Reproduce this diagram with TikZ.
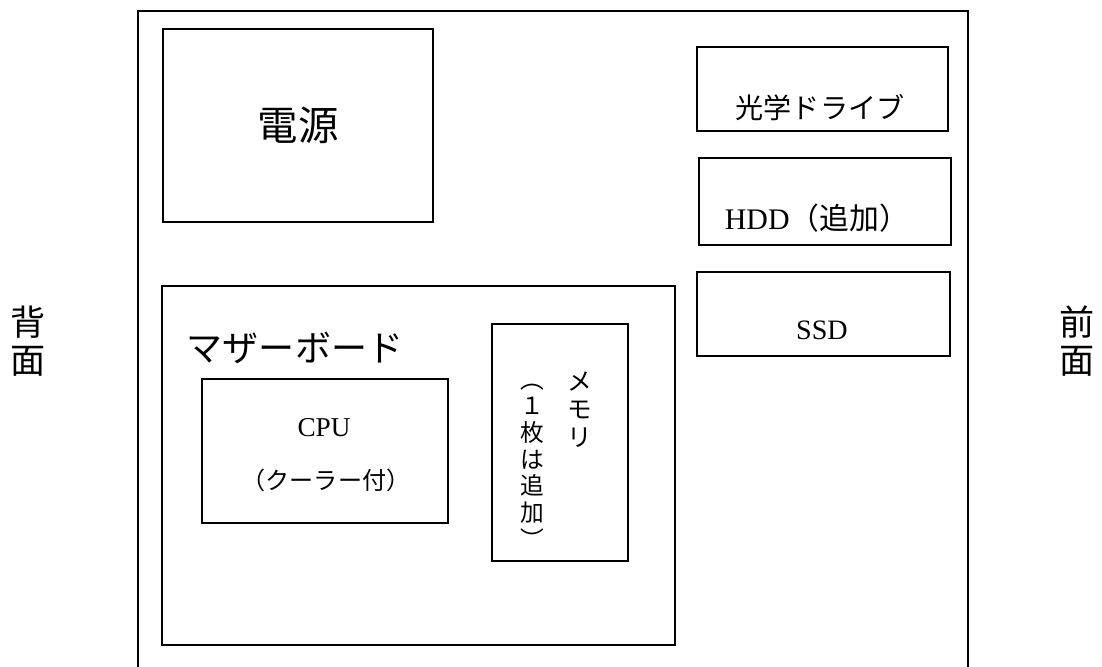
\documentclass[tikz,border=0pt]{standalone}
\usepackage{fontspec}
\setmainfont{Liberation Serif}
\newfontfamily\jfont{Noto Sans CJK JP}
\usetikzlibrary{positioning}

\begin{document}
\begin{tikzpicture}[x=0.02cm, y=-0.02cm, line width=1.3pt,
  part/.style 2 args={draw, rectangle, inner sep=0, minimum width=#1*0.02cm, minimum height=#2*0.02cm},
  lbl/.style={inner sep=0, font=#1}]

\useasboundingbox (0,0) rectangle (1102,666);

% case, open at the bottom
\coordinate (caseBL) at (138,668);
\coordinate (caseTL) at (138,11);
\coordinate (caseTR) at (968,11);
\coordinate (caseBR) at (968,668);
\draw (caseBL) -- (caseTL) -- (caseTR) -- (caseBR);

\node[part={270}{193}, lbl=\jfont\fontsize{23}{23}\selectfont] (psu) at (298,125.5) {電源}; %power

\node[part={251}{84}] (odd) at (822.5,89) {};
\node[lbl=\jfont\fontsize{16}{16}\selectfont] (oddtext) at (820,108) {光学ドライブ};

\node[part={252}{87}] (hdd) at (825,201.5) {};
\node[lbl=\fontsize{17}{17}\selectfont] (hddtext) at (817,218) {HDD\jfont （追加）};

\node[part={253}{84}] (ssd) at (823.5,314) {};
\node[lbl=\fontsize{16}{16}\selectfont] (ssdtext) at (822,330) {SSD};

% motherboard
\node[part={513}{359}] (mb) at (418.5,465.5) {};
\node[lbl=\jfont\fontsize{20.5}{20.5}\selectfont] (mbtext) at (295,348) {マザーボード};

\node[part={246}{144}] (cpu) at (325,451) {};
\node[lbl=\fontsize{15.5}{15.5}\selectfont] (cputext) at (324,428) {CPU};
\node[lbl=\jfont\fontsize{13.7}{13.7}\selectfont] (coolertext) at (326,480) {（クーラー付）};

\node[part={136}{237}] (mem) at (560,442.5) {};
\node[lbl=\jfont\fontsize{14}{16}\selectfont, align=center] (memtext) at (580,410) {メ\\モ\\リ};
\node[lbl=\jfont\fontsize{13.5}{15.2}\selectfont, align=center] (memnote) at (532,466) {︵\\１\\枚\\は\\追\\加\\︶};

\node[lbl=\jfont\fontsize{20}{21.6}\selectfont, align=center] (back) at (28,341) {背\\面};
\node[lbl=\jfont\fontsize{20}{21.6}\selectfont, align=center] (front) at (1077,341) {前\\面};

\end{tikzpicture}
\end{document}
